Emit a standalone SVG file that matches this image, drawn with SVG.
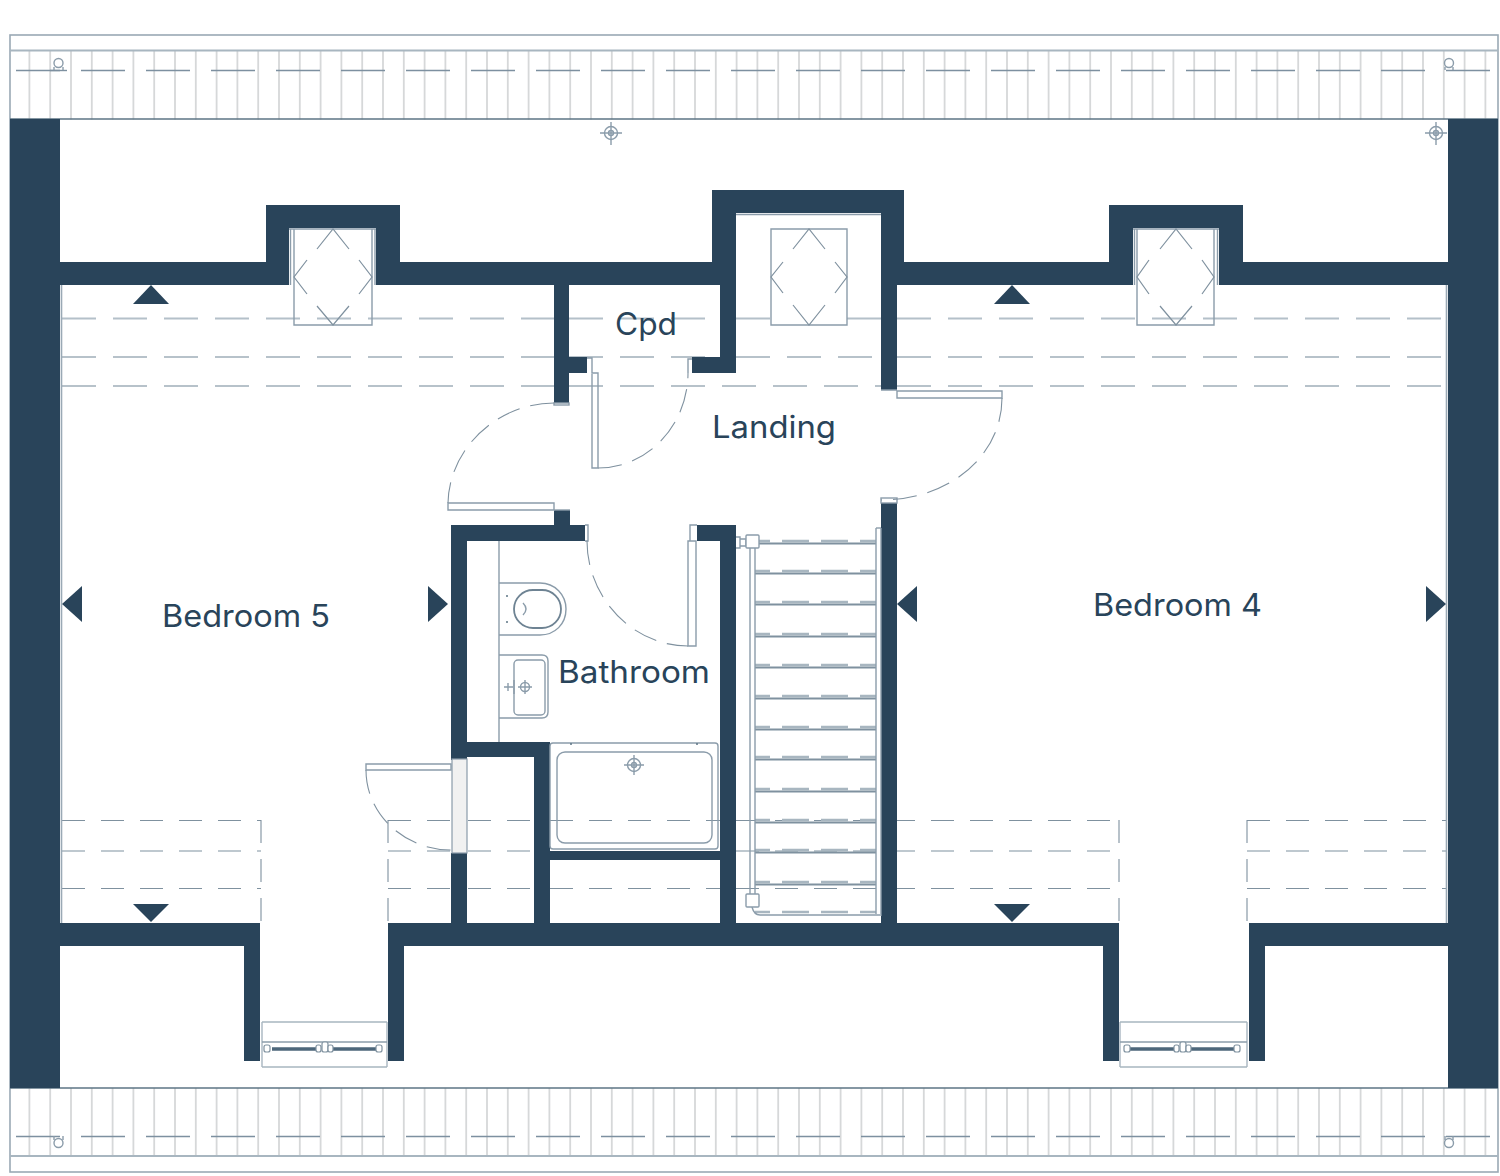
<svg xmlns="http://www.w3.org/2000/svg" width="1500" height="1176" viewBox="0 0 1500 1176">
<style>
.w{fill:#29445a}
.l{fill:none;stroke:#8b9caa;stroke-width:1.4}
.t{fill:none;stroke:#9aa9b5;stroke-width:1.6}
.r{fill:none;stroke:#b4c0c9;stroke-width:2;stroke-dasharray:34 17}
.r2{fill:none;stroke:#a0aeb9;stroke-width:1.5;stroke-dasharray:34 17}
.a{fill:none;stroke:#7f919f;stroke-width:1.1;stroke-dasharray:23 16}
.dr{fill:none;stroke:#7f919f;stroke-width:1.1;stroke-dasharray:24 11}
.h{fill:none;stroke:#a8b6c0;stroke-width:2}
.hd{fill:none;stroke:#5d7485;stroke-width:1.6}
.dh{fill:none;stroke:#7d90a0;stroke-width:1.4;stroke-dasharray:44 21}
.tr{fill:none;stroke:#7f919f;stroke-width:1.8}
.trd{fill:none;stroke:#a8b6c0;stroke-width:2.6;stroke-dasharray:27 12;stroke-dashoffset:12}
.lb{font-family:Inter,Lato,"Liberation Sans",sans-serif;font-size:31px;fill:#29445a}
</style>
<rect width="1500" height="1176" fill="#fff"/>
<g id="roof">
<rect x="10" y="35" width="1488" height="1137" class="t" fill="none"/>
<line x1="28.500" y1="85" x2="1498" y2="85" stroke-width="69" stroke="#d6d8d9" stroke-dasharray="1.8 19" fill="none"/>
<line x1="28.500" y1="1122" x2="1498" y2="1122" stroke-width="68" stroke="#d6d8d9" stroke-dasharray="1.8 19" fill="none"/>
<line x1="10" y1="50.500" x2="1498" y2="50.500" class="h"/>
<line x1="10" y1="119" x2="1498" y2="119" class="hd"/>
<line x1="10" y1="1088" x2="1498" y2="1088" class="hd"/>
<line x1="10" y1="1156" x2="1498" y2="1156" class="h"/>
<line x1="16" y1="70.500" x2="1498" y2="70.500" class="dh"/>
<line x1="50" y1="70.500" x2="67" y2="70.500" stroke="#7d90a0" stroke-width="1.400"/>
<line x1="16" y1="1136.500" x2="1498" y2="1136.500" class="dh"/>
<g class="l"><circle cx="58.500" cy="63" r="4.500"/><path d="M54 67V70M63 67V70"/><circle cx="1449" cy="63" r="4.500"/><path d="M1445 67V70M1453 67V70"/><circle cx="58.500" cy="1143" r="4.500"/><path d="M54 1136V1140M63 1136V1140"/><circle cx="1449" cy="1143" r="4.500"/><path d="M1445 1136V1140M1453 1136V1140"/></g>
</g>
<g id="targets" class="l">
<circle cx="611" cy="133" r="6.500"/><circle cx="611" cy="133" r="2.500"/><path d="M600 133H622M611 122V145"/>
<circle cx="1436" cy="133" r="6.500"/><circle cx="1436" cy="133" r="2.500"/><path d="M1425 133H1447M1436 122V145"/>
<circle cx="634" cy="765" r="6.500"/><circle cx="634" cy="765" r="2.500"/><path d="M624 765H644M634 755V775"/>
</g>
<g id="slope-lines">
<path class="r" d="M62 318.500H554M569 318.500H720M736 318.500H771M847 318.500H881M897 318.500H1446"/>
<path class="r2" d="M62 357H554M569 357H720M736 357H881M897 357H1446"/>
<path class="r2" d="M62 386H554M569 386H881M897 386H1446"/>
<path class="a" d="M62 820.500H261M388 820.500H451M468 820.500H534M550 820.500H720M736 820.500H1119M1247 820.500H1446"/>
<path class="a" d="M62 851H261M388 851H451M468 851H534M736 851H1119M1247 851H1446"/>
<path class="a" d="M62 888.500H261M388 888.500H451M468 888.500H534M550 888.500H720M736 888.500H1119M1247 888.500H1446"/>
<path class="a" d="M261 820V923M388 820V923M1119 820V923M1247 820V923"/>
<path class="t" d="M61.500 285V923M1446.500 285V923"/>
</g>
<g id="walls" class="w">
<rect x="10" y="119" width="50" height="969"/>
<rect x="1448" y="119" width="50" height="969"/>
<path d="M60 262H266V205H400V285H376V228H289V285H60Z"/>
<path d="M400 262H712V190H904V285H897V390H881V213H736V373H692V357H720V285H569V357H587V373H569V403H554V285H400Z"/>
<path d="M904 262H1109V205H1243V285H1219V228H1133V285H904Z"/>
<rect x="1243" y="262" width="205" height="23"/>
<rect x="881" y="503" width="16" height="420"/>
<path d="M451 525H554V510H570V525H585V541H467V742H550V851H720V541H697V525H736V923H720V860H550V923H534V757H467V760H451Z"/>
<rect x="451" y="853" width="16" height="70"/>
<path d="M60 923H260V1061H244V946H60ZM388 923H1119V1061H1103V946H404V1061H388ZM1249 923H1448V946H1265V1061H1249Z"/>
</g>
<g id="arrows" class="w">
<path d="M151 285L169 304H133Z"/><path d="M1012 285L1030 304H994Z"/>
<path d="M151 922L133 904H169Z"/><path d="M1012 922L994 904H1030Z"/>
<path d="M62 604L82 586V622Z"/><path d="M448 604L428 586V622Z"/>
<path d="M897 604L917 586V622Z"/><path d="M1446 604L1426 586V622Z"/>
</g>
<g id="skylights">
<g class="l">
<path d="M289 229H376M290.500 229V285M294 229V325H372V229M375 229V285"/>
<path d="M771 229H847V325H771Z"/>
<path d="M736 214.500H881"/>
<path d="M1133 229H1219M1134.500 229V285M1137 229V325H1214V229M1217.500 229V285"/>
</g>
<g fill="none" stroke="#7f919f" stroke-width="1.200">
<path d="M317 249L333 229L349 249M359 260L372 277L359 294M349 306L333 325L317 306M307 294L294 277L307 260"/>
<path d="M793 249L809 229L825 249M835 262L847 277L835 293M825 305L809 325L793 305M783 293L771 277L783 262"/>
<path d="M1160 249L1176 229L1192 249M1202 260L1214 277L1202 294M1192 306L1176 325L1160 306M1149 294L1137 277L1149 260"/>
</g>
</g>
<g id="doors">
<g class="l">
<rect x="554" y="403" width="15" height="2"/>
<path d="M587 358H592V373H598V468H592V374"/>
<path d="M688 373V359H692"/>
<path d="M881 390H897M897 391H1002V398H897Z"/>
<rect x="881" y="498" width="16" height="5"/>
<path d="M448 503H554V510H448Z"/>
<path d="M554 510H570"/>
<path d="M585 525H588V541H585"/>
<path d="M697 525H690V541M688 541H696V646H688Z"/>
<path d="M366 764H451V770H366Z"/>
</g>
<rect x="452" y="759" width="15" height="94" fill="#f1f1f1" stroke="#8b9caa" stroke-width="1.200"/>
<g class="dr">
<path d="M554 403C497 403 449 449 448 503"/>
<path d="M598 468C650 468 688 423 688 373"/>
<path d="M1002 398C1002 455 950 500 881 500"/>
<path d="M587 541C587 597 632 646 688 646"/>
<path d="M366 770C366 815 405 850 451 850"/>
</g>
</g>
<g id="sanitary">
<g class="l">
<path d="M499 541V742"/>
<path d="M499 583H540C555 583 566 595 566 609C566 624 555 635 540 635H499"/>
<rect x="514" y="590" width="47" height="38" rx="19" stroke-width="1.800" stroke="#6e8393"/>
<path d="M523 603Q529 609 523 615"/>
<path d="M499 655H542Q548 655 548 661V712Q548 718 542 718H499"/>
<rect x="514" y="660" width="31" height="55" rx="4"/>
<path d="M504 687H513M508 683V691M514 680V694"/>
<circle cx="525" cy="687" r="4.500"/><path d="M525 680V694M518 687H532"/>
<rect x="550" y="743" width="168" height="106" rx="3"/>
<rect x="557" y="752" width="155" height="91" rx="8"/>
</g>
<g fill="#5d7485"><circle cx="507" cy="596" r="1"/><circle cx="507" cy="622" r="1"/><circle cx="571" cy="744" r="1"/><circle cx="697" cy="744" r="1"/></g>
</g>
<g id="stairs">
<g class="trd">
<path d="M755 541H876M755 571H876"/><path d="M755 602H876M755 634H876M755 665H876M755 696H876M755 727H876M755 757H876M755 789H876M755 820H876M755 850H876M755 882H876M755 912H876"/>
</g>
<path class="tr" d="M755 543.500H876M755 573.500H876M755 604.500H876M755 636.500H876M755 667.500H876M755 698.500H876M755 729.500H876M755 759.500H876M755 791.500H876M755 822.500H876M755 852.500H876M755 884.500H876"/>
<g class="l">
<path d="M750 548V894M755 548V894"/>
<path d="M876 528V914M881 528V916"/>
<path d="M876 528H881"/>
<path d="M752 907Q754 915 760 915H880"/>
<path d="M736 537H740V548H736M740 539H746V546H740"/>
<rect x="746" y="535" width="13" height="13" rx="1" fill="#fff"/>
<rect x="746" y="894" width="13" height="13" rx="1" fill="#fff"/>
</g>
</g>
<g id="windows">
<g class="l">
<path d="M262 1022H387M262 1067H387M262 1022V1067M387 1022V1067" stroke="#a8b6c0"/>
<path d="M262 1042H387"/>
<path d="M1120 1022H1247M1120 1067H1247M1120 1022V1067M1247 1022V1067" stroke="#a8b6c0"/>
<path d="M1120 1042H1247"/>
</g>
<g fill="none" stroke="#4d677b" stroke-width="3.500">
<path d="M272 1049H318M330 1049H376"/>
<path d="M1130 1049H1176M1188 1049H1234"/>
</g>
<g fill="#fff" stroke="#7f919f" stroke-width="1.200">
<rect x="264" y="1045" width="6" height="7" rx="2"/><rect x="316" y="1045" width="5" height="7" rx="2"/><rect x="322" y="1042" width="6" height="10" rx="2"/><rect x="328" y="1045" width="5" height="7" rx="2"/><rect x="376" y="1045" width="6" height="7" rx="2"/>
<rect x="1124" y="1045" width="6" height="7" rx="2"/><rect x="1174" y="1045" width="5" height="7" rx="2"/><rect x="1180" y="1042" width="6" height="10" rx="2"/><rect x="1186" y="1045" width="5" height="7" rx="2"/><rect x="1234" y="1045" width="6" height="7" rx="2"/>
</g>
</g>
<g id="bedroom-5"><text class="lb" x="162" y="627" textLength="168" lengthAdjust="spacingAndGlyphs">Bedroom 5</text></g>
<g id="bedroom-4"><text class="lb" x="1093" y="616" textLength="169" lengthAdjust="spacingAndGlyphs">Bedroom 4</text></g>
<g id="cpd"><text class="lb" x="615" y="335" textLength="62" lengthAdjust="spacingAndGlyphs">Cpd</text></g>
<g id="landing"><text class="lb" x="712" y="438" textLength="124" lengthAdjust="spacingAndGlyphs">Landing</text></g>
<g id="bathroom"><text class="lb" x="558" y="683" textLength="152" lengthAdjust="spacingAndGlyphs">Bathroom</text></g>
</svg>
